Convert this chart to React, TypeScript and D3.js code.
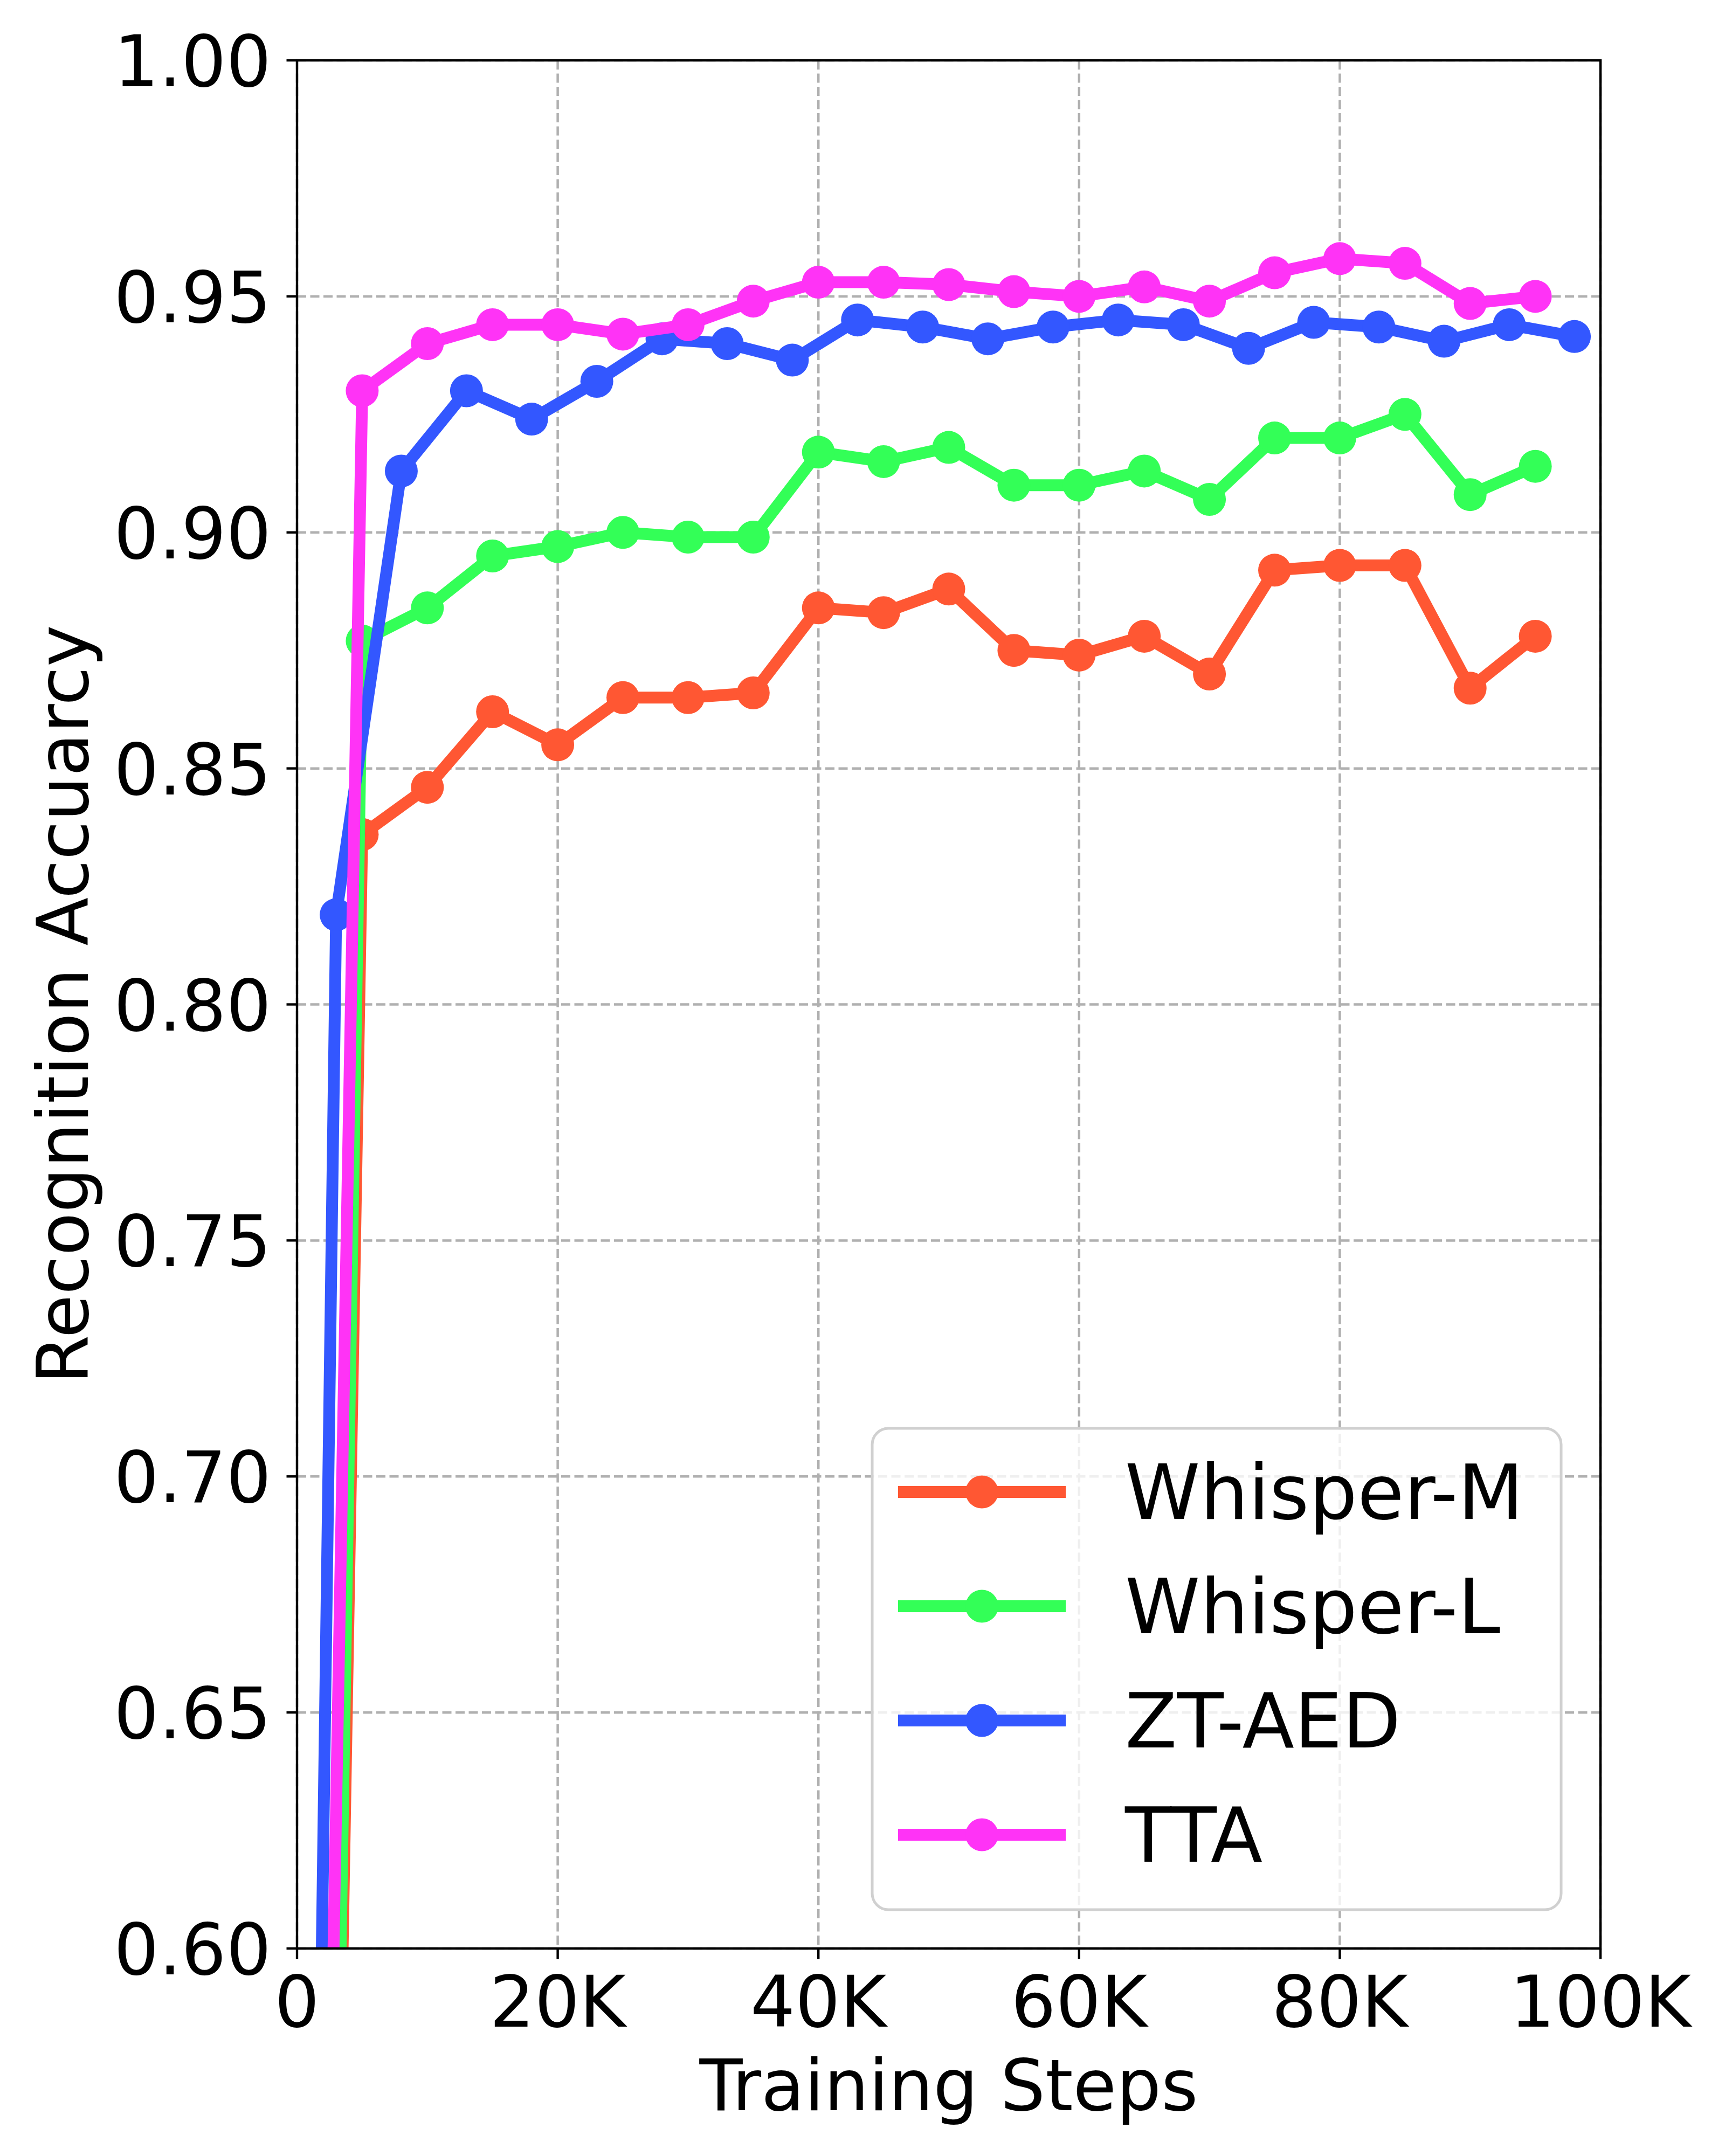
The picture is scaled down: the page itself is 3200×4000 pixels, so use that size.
import React, {useEffect, useRef} from 'react';
import * as d3 from 'd3';

// steps (x) for the three series sampled every 5K, and the offset ZT-AED run
const steps5k = [0, 5000, 10000, 15000, 20000, 25000, 30000, 35000, 40000, 45000, 50000,
  55000, 60000, 65000, 70000, 75000, 80000, 85000, 90000, 95000];
const stepsZt = [0, 3000, 8000, 13000, 18000, 23000, 28000, 33000, 38000, 43000, 48000,
  53000, 58000, 63000, 68000, 73000, 78000, 83000, 88000, 93000, 98000];

const whisperM = [0.05, 0.836, 0.846, 0.862, 0.855, 0.865, 0.865, 0.866, 0.884, 0.883, 0.888,
  0.875, 0.874, 0.878, 0.870, 0.892, 0.893, 0.893, 0.867, 0.878];
const whisperL = [0.04, 0.877, 0.884, 0.895, 0.897, 0.900, 0.899, 0.899, 0.917, 0.915, 0.918,
  0.910, 0.910, 0.913, 0.907, 0.920, 0.920, 0.925, 0.908, 0.914];
const ztAed = [0.22, 0.819, 0.913, 0.930, 0.924, 0.932, 0.941, 0.940, 0.9365, 0.945, 0.9435,
  0.941, 0.9435, 0.945, 0.944, 0.939, 0.9445, 0.9435, 0.9405, 0.944, 0.9415];
const tta = [0.18, 0.930, 0.940, 0.944, 0.944, 0.942, 0.944, 0.949, 0.953, 0.953, 0.9525,
  0.951, 0.950, 0.952, 0.949, 0.955, 0.958, 0.957, 0.9485, 0.950];

const seriesNames = ['Whisper-M', 'Whisper-L', 'ZT-AED', 'TTA'];
const seriesColors = ['#FF5733', '#33FF57', '#3357FF', '#FF33F6'];

const xTicks = [0, 20000, 40000, 60000, 80000, 100000];
const xTickLabels = ['0', '20K', '40K', '60K', '80K', '100K'];
const yTicks = [0.60, 0.65, 0.70, 0.75, 0.80, 0.85, 0.90, 0.95, 1.00];

const App: React.FC = () => {
  const ref = useRef<SVGSVGElement>(null);
  const width = 3200, height = 4000;
  const margin = {top: 112, right: 231, bottom: 385, left: 551};
  const drawWidth = width - margin.left - margin.right,
    drawHeight = height - margin.top - margin.bottom;

  useEffect(() => {
    const root = d3.select(ref.current);
    root.selectAll('*').remove();
    const font = 'DejaVu Sans';

    const series = [
      {name: seriesNames[0], color: seriesColors[0], xs: steps5k, ys: whisperM},
      {name: seriesNames[1], color: seriesColors[1], xs: steps5k, ys: whisperL},
      {name: seriesNames[2], color: seriesColors[2], xs: stepsZt, ys: ztAed},
      {name: seriesNames[3], color: seriesColors[3], xs: steps5k, ys: tta},
    ];

    const x = d3.scaleLinear().domain([0, 100000]).range([0, drawWidth]);
    const y = d3.scaleLinear().domain([0.6, 1.0]).range([drawHeight, 0]);

    root.append('defs').append('clipPath').attr('id', 'plot-clip')
    .append('rect').attr('width', drawWidth).attr('height', drawHeight);

    const svg = root.append('g')
    .attr('transform', 'translate(' + margin.left + ',' + margin.top + ')');

    // grid
    const grid = svg.append('g').attr('stroke', '#b0b0b0').attr('stroke-width', 4.5)
    .attr('stroke-dasharray', '17,7.5');
    grid.selectAll('.vgrid').data(xTicks).enter().append('line')
    .attr('x1', d => x(d)).attr('x2', d => x(d)).attr('y1', 0).attr('y2', drawHeight);
    grid.selectAll('.hgrid').data(yTicks).enter().append('line')
    .attr('y1', d => y(d)).attr('y2', d => y(d)).attr('x1', 0).attr('x2', drawWidth);

    // lines + markers
    const plot = svg.append('g').attr('clip-path', 'url(#plot-clip)');
    const line = d3.line<[number, number]>().x(d => x(d[0])).y(d => y(d[1]));
    series.forEach(s => {
      const pts: [number, number][] = s.xs.map((v, i) => [v, s.ys[i]]);
      plot.append('path').datum(pts)
      .attr('d', line)
      .attr('fill', 'none')
      .attr('stroke', s.color)
      .attr('stroke-width', 22)
      .attr('stroke-linejoin', 'round');
      plot.selectAll(null).data(pts).enter().append('circle')
      .attr('cx', d => x(d[0]))
      .attr('cy', d => y(d[1]))
      .attr('r', 30.5)
      .attr('fill', s.color);
    });

    // spines
    svg.append('rect').attr('width', drawWidth).attr('height', drawHeight)
    .attr('fill', 'none').attr('stroke', 'black').attr('stroke-width', 4.4);

    // x axis ticks
    const xAxis = svg.append('g').attr('transform', 'translate(0,' + drawHeight + ')');
    xAxis.selectAll('line').data(xTicks).enter().append('line')
    .attr('x1', d => x(d)).attr('x2', d => x(d)).attr('y1', 0).attr('y2', 19.5)
    .attr('stroke', 'black').attr('stroke-width', 4.4);
    xAxis.selectAll('text').data(xTicks).enter().append('text')
    .attr('x', d => x(d)).attr('y', 145)
    .attr('text-anchor', 'middle')
    .attr('font-family', font).attr('font-size', 131)
    .text((_, i) => xTickLabels[i]);

    // y axis ticks
    const yAxis = svg.append('g');
    yAxis.selectAll('line').data(yTicks).enter().append('line')
    .attr('x1', -19.5).attr('x2', 0).attr('y1', d => y(d)).attr('y2', d => y(d))
    .attr('stroke', 'black').attr('stroke-width', 4.4);
    yAxis.selectAll('text').data(yTicks).enter().append('text')
    .attr('x', -48).attr('y', d => y(d) + 48)
    .attr('text-anchor', 'end')
    .attr('font-family', font).attr('font-size', 131)
    .text(d => d3.format('.2f')(d));

    // axis labels
    svg.append('text')
    .attr('x', drawWidth / 2).attr('y', drawHeight + 300)
    .attr('text-anchor', 'middle')
    .attr('font-family', font).attr('font-size', 131)
    .text('Training Steps');
    svg.append('text')
    .attr('transform', 'translate(' + (163 - margin.left) + ',' + (drawHeight / 2) + ') rotate(-90)')
    .attr('text-anchor', 'middle')
    .attr('font-family', font).attr('font-size', 131)
    .text('Recognition Accuarcy');

    // legend
    const legW = 1278, legH = 893;
    const legend = svg.append('g')
    .attr('transform', 'translate(' + (drawWidth - 73 - legW) + ',' + (drawHeight - 72 - legH) + ')');
    legend.append('rect')
    .attr('width', legW).attr('height', legH)
    .attr('rx', 30).attr('ry', 30)
    .attr('fill', 'white').attr('fill-opacity', 0.8)
    .attr('stroke', '#d0d0d0').attr('stroke-width', 5);
    const rows = legend.selectAll('.row').data(series).enter().append('g')
    .attr('transform', (_, i) => 'translate(0,' + (118 + i * 212) + ')');
    rows.append('line')
    .attr('x1', 48).attr('x2', 359).attr('y1', 0).attr('y2', 0)
    .attr('stroke', d => d.color).attr('stroke-width', 22);
    rows.append('circle')
    .attr('cx', 203.5).attr('cy', 0).attr('r', 30.5)
    .attr('fill', d => d.color);
    rows.append('text')
    .attr('x', 469).attr('y', 50)
    .attr('font-family', font).attr('font-size', 141)
    .text(d => d.name);
  }, []);

  return (
    <div style={{position: 'absolute', left: 0, top: 0, background: 'white'}}>
      <svg ref={ref} width={width} height={height} style={{display: 'block'}}/>
    </div>
  );
};

export default App;
